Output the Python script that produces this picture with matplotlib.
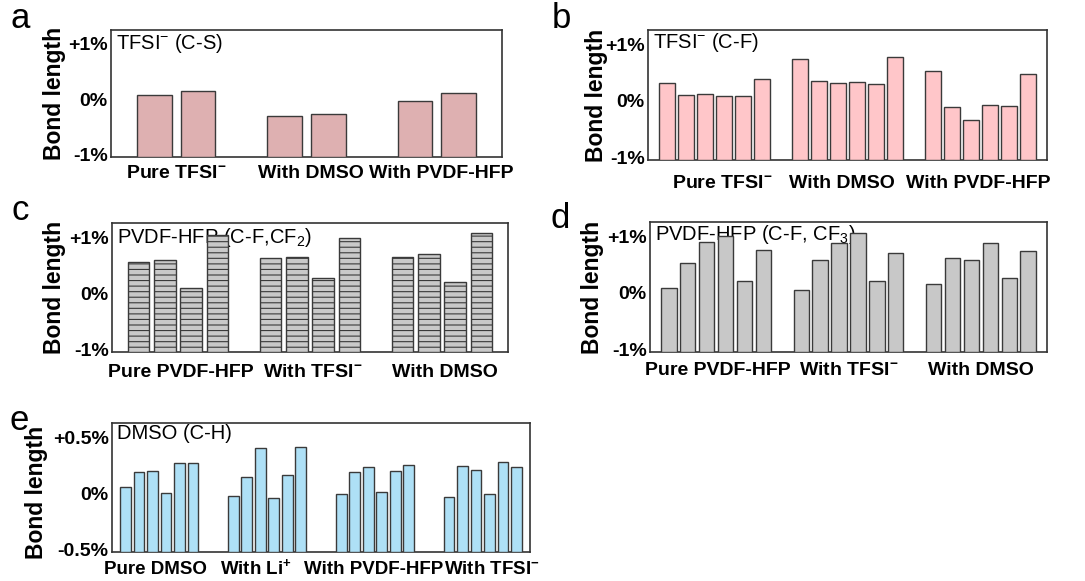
import numpy as np
import matplotlib
matplotlib.use("Agg")
import matplotlib.pyplot as plt
import matplotlib.transforms as mtransforms

plt.rcParams['font.family'] = ['Liberation Sans', 'DejaVu Sans']
plt.rcParams['mathtext.fontset'] = 'custom'
plt.rcParams['mathtext.rm'] = 'Liberation Sans'
plt.rcParams['mathtext.bf'] = 'Liberation Sans:bold'
plt.rcParams['mathtext.it'] = 'Liberation Sans:italic'
plt.rcParams['mathtext.default'] = 'regular'
plt.rcParams['hatch.linewidth'] = 0.8

# ----------------------------------------------------------------------
# bond length change (%)
# ----------------------------------------------------------------------
a_groups = ["Pure TFSI$^{-}$", "With DMSO", "With PVDF-HFP"]
a_values = [[0.08, 0.15], [-0.31, -0.28], [-0.04, 0.11]]

b_groups = ["Pure TFSI$^{-}$", "With DMSO", "With PVDF-HFP"]
b_values = [[0.32, 0.10, 0.11, 0.09, 0.08, 0.38],
            [0.74, 0.34, 0.32, 0.33, 0.30, 0.77],
            [0.52, -0.11, -0.34, -0.07, -0.09, 0.47]]

c_groups = ["Pure PVDF-HFP", "With TFSI$^{-}$", "With DMSO"]
c_values = [[0.56, 0.59, 0.10, 1.03],
            [0.62, 0.65, 0.27, 0.99],
            [0.65, 0.69, 0.19, 1.08]]

d_groups = ["Pure PVDF-HFP", "With TFSI$^{-}$", "With DMSO"]
d_values = [[0.09, 0.52, 0.90, 1.00, 0.21, 0.75],
            [0.05, 0.58, 0.87, 1.05, 0.21, 0.71],
            [0.16, 0.62, 0.58, 0.88, 0.26, 0.73]]

e_groups = ["Pure DMSO", "With Li$^{\\mathbf{+}}$", "With PVDF-HFP", "With TFSI$^{-}$"]
e_values = [[0.056, 0.196, 0.199, 0.006, 0.276, 0.270],
            [-0.018, 0.149, 0.404, -0.042, 0.169, 0.416],
            [-0.006, 0.193, 0.235, 0.015, 0.205, 0.253],
            [-0.030, 0.247, 0.208, -0.003, 0.279, 0.238]]

pct_ticks = [-1, 0, 1]
pct_labels = ["-1%", "0%", "+1%"]
e_ticks = [-0.5, 0, 0.5]
e_labels = ["-0.5%", "0%", "+0.5%"]

W, H = 1085, 581
EDGE = '#3a3a3a'


def px_axes(fig, x0, y0, x1, y1):
    # pixel box (top-left origin) -> figure axes
    return fig.add_axes([x0 / W, 1 - y1 / H, (x1 - x0) / W, (y1 - y0) / H])


def panel(ax, values, groups, gap, width, color, ylim, ticks, tlabels,
          label_x, title, title_y, base_px, gsize=14, hatch=None):
    n = len(values[0])
    pos = []
    vals = []
    for g, grp in enumerate(values):
        for i, v in enumerate(grp):
            pos.append(g * (n + gap) + i + 1)
            vals.append(v)
    pos = np.array(pos, dtype=float)
    vals = np.array(vals)
    total = len(values) * (n + gap) - gap + 1
    ax.bar(pos, vals - ylim[0], bottom=ylim[0], width=width, color=color,
           edgecolor=EDGE, linewidth=1.0, hatch=hatch, zorder=3)
    ax.set_xlim(0, total)
    ax.set_ylim(*ylim)
    ax.set_yticks(ticks)
    ax.set_yticklabels(tlabels, fontsize=14, fontweight='bold')
    ax.set_xticks([])
    ax.tick_params(axis='y', length=0, pad=2.5)
    for s in ax.spines.values():
        s.set_linewidth(1.2)
        s.set_color('#333333')
    # group names sit on a common baseline below the axes
    trans = mtransforms.blended_transform_factory(
        ax.transData,
        ax.transAxes + mtransforms.ScaledTranslation(0, -base_px / 100, ax.figure.dpi_scale_trans))
    for x, name in zip(label_x, groups):
        ax.text(x, 0, name, transform=trans, fontsize=gsize, fontweight='bold',
                ha='center', va='baseline', clip_on=False)
    ax.text(0.012, title_y, title, transform=ax.transAxes, fontsize=14.5,
            ha='left', va='center', zorder=1)


fig = plt.figure(figsize=(W / 100, H / 100), dpi=100)

ax_a = px_axes(fig, 111, 30, 502, 157)
panel(ax_a, a_values, a_groups, 1, 0.8, '#deb0b1', (-1.05, 1.25),
      pct_ticks, pct_labels, [1.5, 4.6, 7.6], "TFSI$^{-}$ (C-S)", 0.89, 21)

ax_b = px_axes(fig, 648, 30, 1047, 160)
panel(ax_b, b_values, b_groups, 1, 0.82, '#ffc6c9', (-1.05, 1.25),
      pct_ticks, pct_labels, [3.9, 10.2, 17.4], "TFSI$^{-}$ (C-F)", 0.9, 28)

ax_c = px_axes(fig, 112, 223, 508, 352)
panel(ax_c, c_values, c_groups, 1, 0.82, '#c9c9c9', (-1.05, 1.25),
      pct_ticks, pct_labels, [2.6, 7.6, 12.6], "PVDF-HFP (C-F,CF$_2$)", 0.89, 25,
      hatch='---')

ax_d = px_axes(fig, 650, 222, 1047, 352)
panel(ax_d, d_values, d_groups, 1, 0.81, '#c8c8c8', (-1.05, 1.25),
      pct_ticks, pct_labels, [3.6, 10.5, 17.5], "PVDF-HFP (C-F, CF$_3$)", 0.9, 23)

ax_e = px_axes(fig, 112, 423, 530, 552)
panel(ax_e, e_values, e_groups, 2, 0.8, '#aee0f6', (-0.52, 0.63),
      e_ticks, e_labels, [3.2, 10.7, 19.4, 28.2], "DMSO (C-H)", 0.92, 22, gsize=13.5)

# y labels
for x, yc in [(55, 93), (596, 95), (55, 287), (593, 287), (37, 492)]:
    fig.text(x / W, 1 - yc / H, "Bond length", rotation=90, fontsize=16.5,
             fontweight='bold', ha='center', va='center')

# panel letters
for letter, x, y in [("a", 10, 28), ("b", 552, 28), ("c", 11, 220),
                     ("d", 551, 228), ("e", 9, 430)]:
    fig.text(x / W, 1 - y / H, letter, fontsize=25, ha='left', va='baseline')

fig.savefig("out.png", dpi=100)
